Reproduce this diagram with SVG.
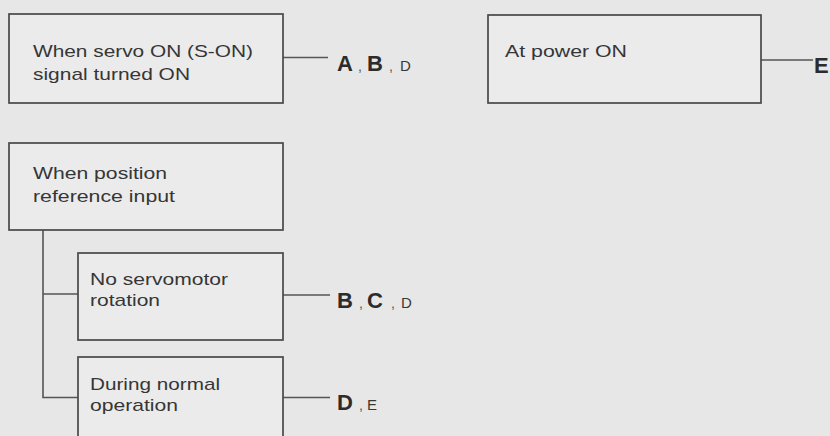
<svg xmlns="http://www.w3.org/2000/svg" width="830" height="436" viewBox="0 0 830 436">
<style>
.bg{fill:#e7e7e7}
.box{fill:#ebebeb;stroke:#484848;stroke-width:1.7}
.t{font-family:"Liberation Sans",Arial,sans-serif;font-size:17px;fill:#363636}
.big{font-family:"Liberation Sans",Arial,sans-serif;font-size:22px;font-weight:bold;fill:#2c2c2c}
.sm{font-family:"Liberation Sans",Arial,sans-serif;font-size:15px;fill:#383838}
.cm{font-family:"Liberation Sans",Arial,sans-serif;font-size:14px;fill:#555}
.ln{fill:none;stroke:#555;stroke-width:1.6}
</style>
<rect class="bg" x="0" y="0" width="830" height="436"/>
<g id="connectors">
<line class="ln" x1="283" y1="57.5" x2="328" y2="57.5"/>
<line class="ln" x1="761" y1="60" x2="813" y2="60"/>
<polyline class="ln" points="43,230 43,397.5 78,397.5"/>
<line class="ln" x1="43" y1="294" x2="78" y2="294"/>
<line class="ln" x1="283" y1="295" x2="330" y2="295"/>
<line class="ln" x1="283" y1="397.5" x2="330" y2="397.5"/>
</g>
<g id="n-servo-on">
<rect class="box" x="9" y="14" width="274" height="89"/>
<text class="t" x="33" y="57" textLength="220" lengthAdjust="spacingAndGlyphs">When servo ON (S-ON)</text>
<text class="t" x="33" y="80" textLength="157" lengthAdjust="spacingAndGlyphs">signal turned ON</text>
</g>
<g id="lbl-abd">
<text class="big" x="337" y="71">A</text><text class="cm" x="358" y="71">,</text>
<text class="big" x="367" y="71">B</text><text class="cm" x="389" y="71">,</text>
<text class="sm" x="400" y="71">D</text>
</g>
<g id="n-power-on">
<rect class="box" x="488" y="15" width="273" height="88"/>
<text class="t" x="505" y="57" textLength="122" lengthAdjust="spacingAndGlyphs">At power ON</text>
</g>
<g id="lbl-e">
<text class="big" x="814" y="73">E</text>
</g>
<g id="n-position">
<rect class="box" x="9" y="143" width="274" height="87"/>
<text class="t" x="33" y="179" textLength="134" lengthAdjust="spacingAndGlyphs">When position</text>
<text class="t" x="33" y="202" textLength="142" lengthAdjust="spacingAndGlyphs">reference input</text>
</g>
<g id="n-no-rotation">
<rect class="box" x="78" y="253" width="205" height="87"/>
<text class="t" x="90" y="285" textLength="138" lengthAdjust="spacingAndGlyphs">No servomotor</text>
<text class="t" x="90" y="306" textLength="70" lengthAdjust="spacingAndGlyphs">rotation</text>
</g>
<g id="lbl-bcd">
<text class="big" x="337" y="308">B</text><text class="cm" x="359" y="308">,</text>
<text class="big" x="367" y="308">C</text><text class="cm" x="391" y="308">,</text>
<text class="sm" x="401" y="308">D</text>
</g>
<g id="n-normal">
<rect class="box" x="78" y="357" width="205" height="90"/>
<text class="t" x="90" y="390" textLength="130" lengthAdjust="spacingAndGlyphs">During normal</text>
<text class="t" x="90" y="411" textLength="88" lengthAdjust="spacingAndGlyphs">operation</text>
</g>
<g id="lbl-de">
<text class="big" x="337" y="410">D</text><text class="cm" x="359" y="410">,</text>
<text class="sm" x="367" y="410">E</text>
</g>
</svg>
